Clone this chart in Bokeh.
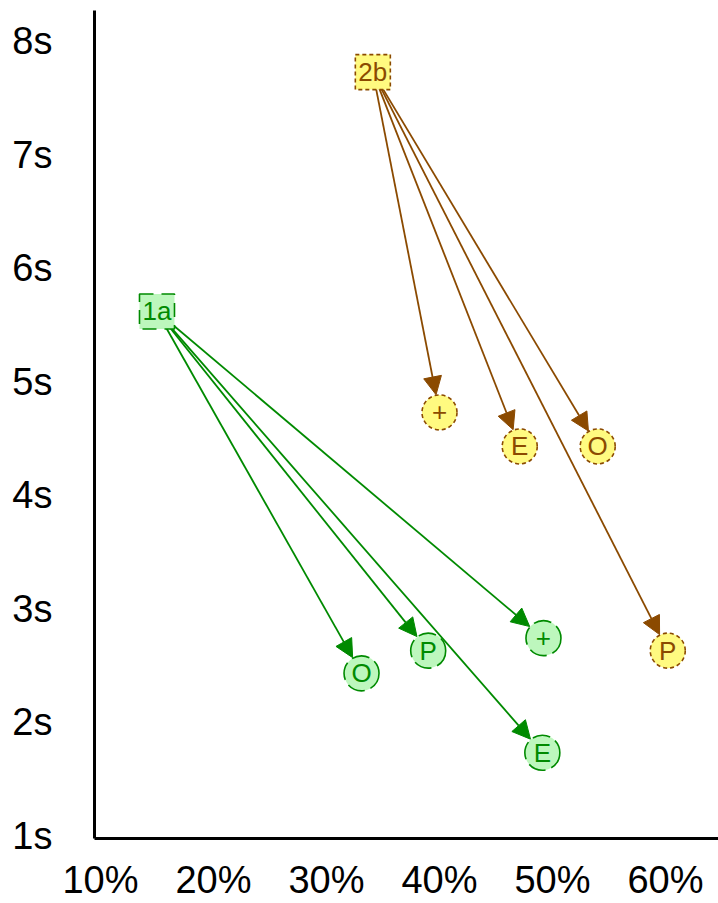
import math
from bokeh.plotting import figure
from bokeh.models import ColumnDataSource, Arrow, NormalHead, FixedTicker, Range1d
from bokeh.core.properties import value
from bokeh.embed import file_html
from bokeh.resources import INLINE

# ---- data ----
x_ticks = [10, 20, 30, 40, 50, 60]
x_tick_labels = ["10%", "20%", "30%", "40%", "50%", "60%"]
y_ticks = [1, 2, 3, 4, 5, 6, 7, 8]
y_tick_labels = ["1s", "2s", "3s", "4s", "5s", "6s", "7s", "8s"]

source_names = ["1a", "2b"]
source_x = [15.0, 34.1]
source_y = [5.62, 7.73]

green_labels = ["O", "P", "+", "E"]
green_x = [33.1, 39.0, 49.2, 49.1]
green_y = [2.43, 2.63, 2.74, 1.73]

yellow_labels = ["+", "E", "O", "P"]
yellow_x = [40.0, 47.1, 54.0, 60.2]
yellow_y = [4.73, 4.43, 4.43, 2.63]

# ---- styles ----
GREEN_FILL = "#bdf7bd"
GREEN_LINE = "#008a00"
YEL_FILL = "#fffa80"
BROWN = "#8b4a00"
FONT = "Liberation Sans"

X0, X1 = 9.47, 64.69
Y0, Y1 = 0.974, 8.273
W, H = 718, 903
BL, BR, BT, BB = 94, 0, 10, 65
FW = W - BL - BR
FH = H - BT - BB
PX_X = FW / (X1 - X0)
PX_Y = FH / (Y1 - Y0)

p = figure(width=W, height=H, output_backend="svg", toolbar_location=None,
           x_range=Range1d(X0, X1), y_range=Range1d(Y0, Y1),
           min_border_left=BL, min_border_right=BR, min_border_top=BT,
           min_border_bottom=BB)
p.grid.visible = False
p.outline_line_color = None
p.background_fill_color = "white"
p.border_fill_color = "white"

for ax in (p.xaxis[0], p.yaxis[0]):
    ax.axis_line_width = 3
    ax.axis_line_color = "black"
    ax.major_tick_line_color = None
    ax.minor_tick_line_color = None
    ax.major_label_text_font = FONT
    ax.major_label_text_font_size = "38px"
    ax.major_label_text_color = "black"

p.xaxis.ticker = FixedTicker(ticks=x_ticks)
p.xaxis.major_label_overrides = {t: l for t, l in zip(x_ticks, x_tick_labels)}
p.xaxis.major_label_standoff = 14
p.yaxis.ticker = FixedTicker(ticks=y_ticks)
p.yaxis.major_label_overrides = {t: l for t, l in zip(y_ticks, y_tick_labels)}
p.yaxis.major_label_standoff = 36


def add_arrows(sx, sy, tx, ty, color):
    R = 18.0
    for x, y in zip(tx, ty):
        dxp = (x - sx) * PX_X
        dyp = (y - sy) * PX_Y
        d = math.hypot(dxp, dyp)
        ex = x - dxp / d * R / PX_X
        ey = y - dyp / d * R / PX_Y
        arr = Arrow(x_start=sx, y_start=sy, x_end=ex, y_end=ey,
                    line_color=color, line_width=1.8,
                    end=NormalHead(size=18, fill_color=color, line_color=color),
                    level="underlay")
        p.add_layout(arr)


add_arrows(source_x[0], source_y[0], green_x, green_y, GREEN_LINE)
add_arrows(source_x[1], source_y[1], yellow_x, yellow_y, BROWN)

# circles
p.scatter(green_x, green_y, marker="circle", size=35, fill_color=GREEN_FILL,
          line_color=GREEN_LINE, line_width=1.6, line_dash="18 6")
p.scatter(yellow_x, yellow_y, marker="circle", size=35, fill_color=YEL_FILL,
          line_color=BROWN, line_width=1.6, line_dash="4 3")

# squares
p.scatter([source_x[0]], [source_y[0]], marker="square", size=35,
          fill_color=GREEN_FILL, line_color=GREEN_LINE, line_width=1.6,
          line_dash="14 8")
p.scatter([source_x[1]], [source_y[1]], marker="square", size=35,
          fill_color=YEL_FILL, line_color=BROWN, line_width=1.6,
          line_dash="4 3")

# labels
LBL = "26px"
p.text(green_x, green_y, text=green_labels, text_align="center",
       text_baseline="middle", text_font=value(FONT), text_font_size=LBL,
       text_color=GREEN_LINE)
p.text(yellow_x, yellow_y, text=yellow_labels, text_align="center",
       text_baseline="middle", text_font=value(FONT), text_font_size=LBL,
       text_color=BROWN)
p.text([source_x[0]], [source_y[0]], text=[source_names[0]], text_align="center",
       text_baseline="middle", text_font=value(FONT), text_font_size=LBL,
       text_color=GREEN_LINE)
p.text([source_x[1]], [source_y[1]], text=[source_names[1]], text_align="center",
       text_baseline="middle", text_font=value(FONT), text_font_size=LBL,
       text_color=BROWN)

open("out.html", "w").write(file_html(p, INLINE))
